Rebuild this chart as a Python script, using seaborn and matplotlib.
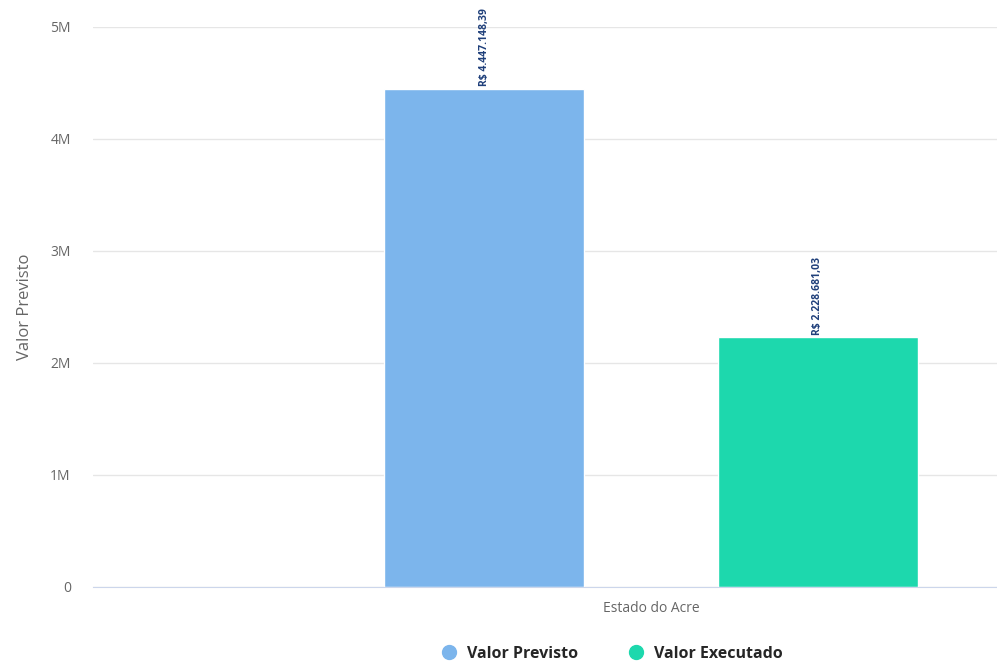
import matplotlib
matplotlib.use('Agg')
import matplotlib.pyplot as plt
import pandas as pd
import seaborn as sns
from matplotlib.lines import Line2D
from matplotlib.ticker import FuncFormatter

# Data
categories = ['Estado do Acre', 'Estado do Acre']
series = ['Valor Previsto', 'Valor Executado']
values = [4447148.39, 2228681.03]
value_labels = ['R$ 4.447.148,39', 'R$ 2.228.681,03']
colors = ['#7cb5ec', '#1dd8ad']

df = pd.DataFrame({'categoria': categories, 'serie': series, 'valor': values})

sns.set_style('white')
plt.rcParams['font.family'] = ['Open Sans', 'DejaVu Sans']

fig = plt.figure(figsize=(9.97, 6.66), dpi=100)
ax = fig.add_axes([93 / 997, 1 - 587 / 666, 1 - 93 / 997, (587 - 27) / 666])

sns.barplot(data=df, x='categoria', y='valor', hue='serie', palette=colors,
            gap=0.4, ax=ax, legend=False, saturation=1)

# value labels on top of bars, rotated like the original
for patch, lab in zip(ax.patches, value_labels):
    x = patch.get_x() + patch.get_width() / 2
    ax.text(x, patch.get_height() + 25000, lab, rotation=90, ha='center',
            va='bottom', fontsize=7.5, fontweight='bold', color='#1f3f7a')

ax.set_ylim(0, 5e6)
ax.set_xlim(-0.669, 0.415)
ax.set_yticks([0, 1e6, 2e6, 3e6, 4e6, 5e6])
ax.yaxis.set_major_formatter(FuncFormatter(lambda v, p: '0' if v == 0 else f'{int(v / 1e6)}M'))
ax.grid(axis='y', color='#e6e6e6', linewidth=1)
ax.set_axisbelow(True)
for s in ['top', 'right', 'left']:
    ax.spines[s].set_visible(False)
ax.spines['bottom'].set_color('#ccd6eb')
ax.tick_params(axis='y', length=0, labelsize=10, labelcolor='#666666', pad=16)
ax.tick_params(axis='x', length=0, labelsize=10, labelcolor='#666666', pad=10)
ax.set_xlabel('')
ax.set_ylabel('Valor Previsto', fontsize=12, color='#666666')
ax.yaxis.set_label_coords(-0.066, 0.5)

handles = [Line2D([0], [0], marker='o', linestyle='', markersize=10,
                  markerfacecolor=c, markeredgecolor=c) for c in colors]
fig.legend(handles, series, loc='center', bbox_to_anchor=(0.61, 1 - 654 / 666),
           ncol=2, frameon=False, handletextpad=0.15, columnspacing=2.6,
           prop={'weight': 'bold', 'size': 11.5})

fig.savefig('out.png', dpi=100)
